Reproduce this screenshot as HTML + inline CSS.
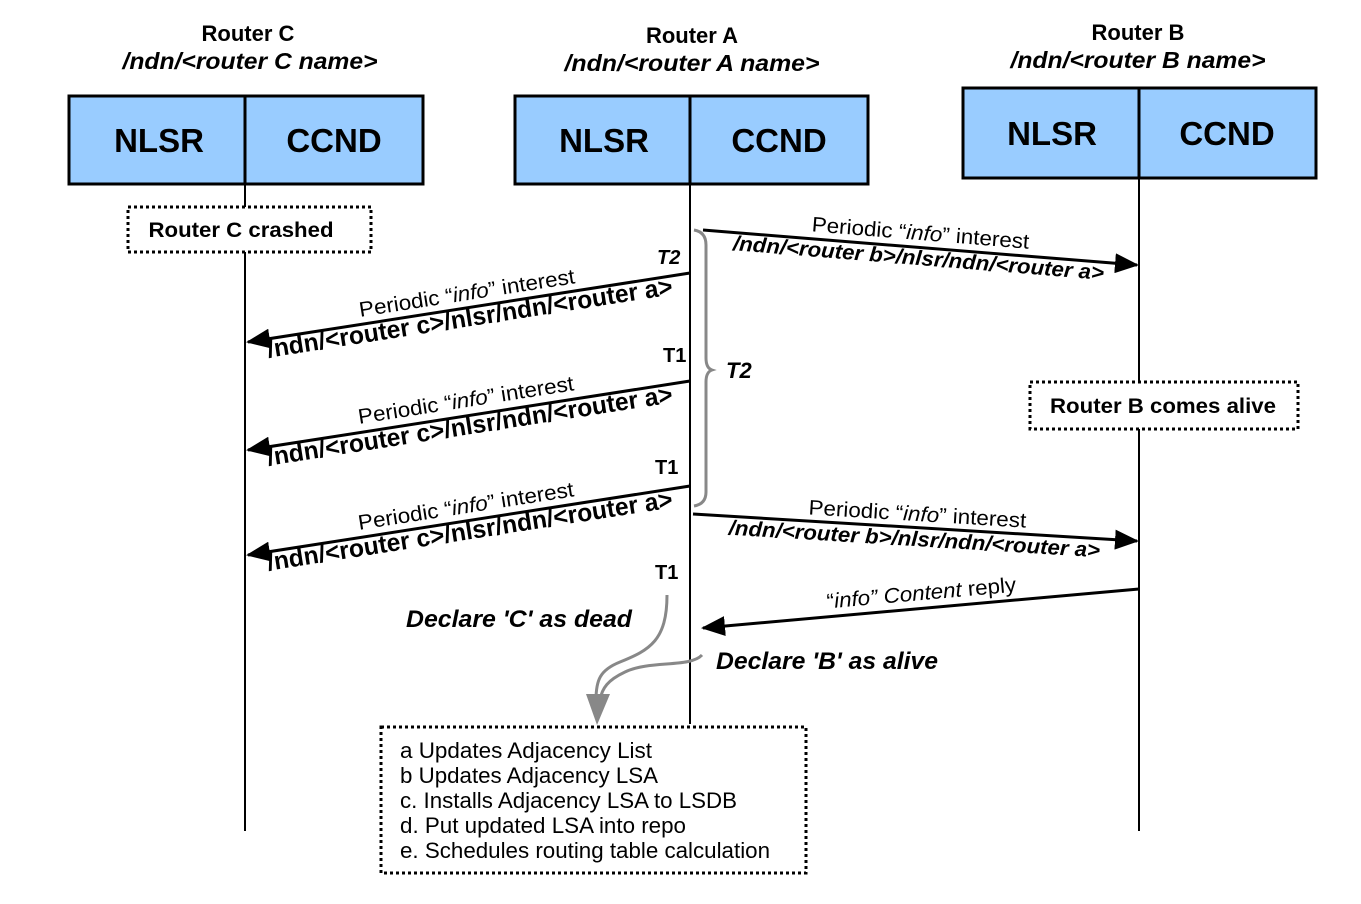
<!DOCTYPE html>
<html><head><meta charset="utf-8"><style>html,body{margin:0;padding:0;background:#fff}svg{display:block}text{font-family:"Liberation Sans",Arial,sans-serif}</style></head>
<body>
<svg width="1361" height="904" viewBox="0 0 1361 904" xmlns="http://www.w3.org/2000/svg">
<defs>
<marker id="ah" markerWidth="24" markerHeight="20" refX="22" refY="10" orient="auto" markerUnits="userSpaceOnUse" viewBox="0 0 24 20"><path d="M0,0 L24,10 L0,20 z" fill="#000"/></marker>
</defs>
<!-- titles -->
<g font-weight="bold" font-size="22" text-anchor="middle" fill="#000">
<text x="248" y="41">Router C</text>
<text x="250" y="69" font-style="italic" font-size="23" textLength="255" lengthAdjust="spacingAndGlyphs">/ndn/&lt;router C name&gt;</text>
<text x="692" y="43">Router A</text>
<text x="692" y="71" font-style="italic" font-size="23" textLength="255" lengthAdjust="spacingAndGlyphs">/ndn/&lt;router A name&gt;</text>
<text x="1138" y="40">Router B</text>
<text x="1138" y="68" font-style="italic" font-size="23" textLength="255" lengthAdjust="spacingAndGlyphs">/ndn/&lt;router B name&gt;</text>
</g>
<!-- lifelines -->
<g stroke="#000" stroke-width="2">
<line x1="245" y1="184" x2="245" y2="831"/>
<line x1="690" y1="184" x2="690" y2="724"/>
<line x1="1139" y1="178" x2="1139" y2="831"/>
</g>
<!-- boxes -->
<g fill="#99ccff" stroke="#000" stroke-width="3">
<rect x="69" y="96" width="354" height="88"/>
<line x1="245" y1="96" x2="245" y2="184"/>
<rect x="515" y="96" width="353" height="88"/>
<line x1="690" y1="96" x2="690" y2="184"/>
<rect x="963" y="88" width="353" height="90"/>
<line x1="1139" y1="88" x2="1139" y2="178"/>
</g>
<g font-weight="bold" font-size="33" text-anchor="middle">
<text x="159" y="152">NLSR</text><text x="334" y="152">CCND</text>
<text x="604" y="152">NLSR</text><text x="779" y="152">CCND</text>
<text x="1052" y="145">NLSR</text><text x="1227" y="145">CCND</text>
</g>
<!-- dotted boxes -->
<g fill="#fff" stroke="#000" stroke-width="3" stroke-dasharray="3,3">
<rect x="128" y="207" width="243" height="45"/>
<rect x="1030" y="382" width="268" height="47"/>
<rect x="381" y="727" width="425" height="146"/>
</g>
<g font-weight="bold" font-size="21" text-anchor="middle">
<text x="241" y="237" textLength="185" lengthAdjust="spacingAndGlyphs">Router C crashed</text>
<text x="1163" y="413" textLength="226" lengthAdjust="spacingAndGlyphs">Router B comes alive</text>
</g>
<g font-size="22">
<text x="400" y="758" textLength="252" lengthAdjust="spacingAndGlyphs">a Updates Adjacency List</text>
<text x="400" y="783" textLength="258" lengthAdjust="spacingAndGlyphs">b Updates Adjacency LSA</text>
<text x="400" y="808" textLength="337" lengthAdjust="spacingAndGlyphs">c. Installs Adjacency LSA to LSDB</text>
<text x="400" y="833" textLength="286" lengthAdjust="spacingAndGlyphs">d. Put updated LSA into repo</text>
<text x="400" y="858" textLength="370" lengthAdjust="spacingAndGlyphs">e. Schedules routing table calculation</text>
</g>
<!-- arrows -->
<g stroke="#000" stroke-width="3" fill="none">
<line x1="703" y1="230" x2="1137" y2="265" marker-end="url(#ah)"/>
<line x1="690" y1="273" x2="248" y2="342" marker-end="url(#ah)"/>
<line x1="690" y1="381" x2="248" y2="450" marker-end="url(#ah)"/>
<line x1="690" y1="486" x2="248" y2="555" marker-end="url(#ah)"/>
<line x1="693" y1="514" x2="1137" y2="541" marker-end="url(#ah)"/>
<line x1="1139" y1="589" x2="703" y2="628" marker-end="url(#ah)"/>
</g>
<!-- arrow labels -->
<g font-size="21" text-anchor="middle">
<text transform="translate(920,240) rotate(4.6)" textLength="218" lengthAdjust="spacingAndGlyphs"><tspan>Periodic “</tspan><tspan font-style="italic">info</tspan><tspan>” interest</tspan></text>
<text transform="translate(917,521) rotate(3.5)" textLength="218" lengthAdjust="spacingAndGlyphs"><tspan>Periodic “</tspan><tspan font-style="italic">info</tspan><tspan>” interest</tspan></text>
<text transform="translate(468,300) rotate(-8.9)" textLength="218" lengthAdjust="spacingAndGlyphs"><tspan>Periodic “</tspan><tspan font-style="italic">info</tspan><tspan>” interest</tspan></text>
<text transform="translate(467,407) rotate(-8.9)" textLength="218" lengthAdjust="spacingAndGlyphs"><tspan>Periodic “</tspan><tspan font-style="italic">info</tspan><tspan>” interest</tspan></text>
<text transform="translate(467,513) rotate(-8.9)" textLength="218" lengthAdjust="spacingAndGlyphs"><tspan>Periodic “</tspan><tspan font-style="italic">info</tspan><tspan>” interest</tspan></text>
<text transform="translate(922,600) rotate(-5.1)" textLength="190" lengthAdjust="spacingAndGlyphs"><tspan>“</tspan><tspan font-style="italic">info” Content</tspan><tspan> reply</tspan></text>
</g>
<g font-size="21" font-weight="bold" font-style="italic" text-anchor="middle">
<text transform="translate(918,265) rotate(4.6)" textLength="372" lengthAdjust="spacingAndGlyphs">/ndn/&lt;router b&gt;/nlsr/ndn/&lt;router a&gt;</text>
<text transform="translate(914,546) rotate(3.5)" textLength="372" lengthAdjust="spacingAndGlyphs">/ndn/&lt;router b&gt;/nlsr/ndn/&lt;router a&gt;</text>
</g>
<g font-size="25" font-weight="bold" text-anchor="middle">
<text transform="translate(471,326) rotate(-8.9)" textLength="410" lengthAdjust="spacingAndGlyphs">/ndn/&lt;router c&gt;/nlsr/ndn/&lt;router a&gt;</text>
<text transform="translate(471,434) rotate(-8.9)" textLength="410" lengthAdjust="spacingAndGlyphs">/ndn/&lt;router c&gt;/nlsr/ndn/&lt;router a&gt;</text>
<text transform="translate(471,539) rotate(-8.9)" textLength="410" lengthAdjust="spacingAndGlyphs">/ndn/&lt;router c&gt;/nlsr/ndn/&lt;router a&gt;</text>
</g>
<!-- T labels -->
<g font-weight="bold" font-size="20">
<text x="657" y="264" font-style="italic">T2</text>
<text x="663" y="362">T1</text>
<text x="655" y="474">T1</text>
<text x="655" y="579">T1</text>
<text x="726" y="378" font-style="italic" font-size="22">T2</text>
</g>
<!-- brace -->
<path d="M694,230 Q706,232 706,245 L706,358 Q706,368 712,370 Q706,372 706,382 L706,492 Q706,504 694,506" stroke="#888" stroke-width="3" fill="none"/>
<!-- gray curved arrows -->
<g stroke="#888" stroke-width="3" fill="none">
<path d="M667,595 C667,640 650,650 620,662 C600,670 596,680 596,700"/>
<path d="M702,655 C690,668 650,660 625,672 C608,680 602,688 600,700"/>
</g>
<path d="M586,694 L610,694 L597,725 z" fill="#888"/>
<g font-weight="bold" font-style="italic" font-size="24">
<text x="406" y="627" textLength="226" lengthAdjust="spacingAndGlyphs">Declare 'C' as dead</text>
<text x="716" y="669" textLength="222" lengthAdjust="spacingAndGlyphs">Declare 'B' as alive</text>
</g>
</svg>
</body></html>
